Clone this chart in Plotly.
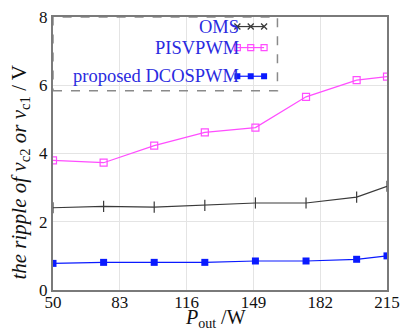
import plotly.graph_objects as go

# Output power (W) and ripple voltage (V) for each modulation scheme
p_out = [50, 75, 100, 125, 150, 175, 200, 215]
oms = [2.41, 2.45, 2.43, 2.48, 2.55, 2.55, 2.72, 3.04]
pisvpwm = [3.80, 3.73, 4.23, 4.62, 4.76, 5.66, 6.15, 6.25]
dcospwm = [0.78, 0.81, 0.81, 0.81, 0.85, 0.85, 0.90, 1.00]

x_ticks = [50, 83, 116, 149, 182, 215]
y_ticks = [0, 2, 4, 6, 8]

series_names = ["OMS", "PISVPWM", "proposed DCOSPWM"]

FONT = "Liberation Serif"
GRAY = "#3a3a3a"
PINK = "#ff4dff"
BLUE = "#0a1aff"
TEXT_BLUE = "#2a2ae0"

fig = go.Figure()

fig.add_trace(go.Scatter(
    x=p_out, y=oms, mode="lines+markers",
    line=dict(color=GRAY, width=1.2),
    marker=dict(symbol="line-ns", size=8, line=dict(color=GRAY, width=1.2)),
    showlegend=False))
fig.add_trace(go.Scatter(
    x=p_out, y=pisvpwm, mode="lines+markers",
    line=dict(color=PINK, width=1.2),
    marker=dict(symbol="square-open", size=7, color=PINK, line=dict(color=PINK, width=1.2)),
    showlegend=False))
fig.add_trace(go.Scatter(
    x=p_out, y=dcospwm, mode="lines+markers",
    line=dict(color=BLUE, width=1.2),
    marker=dict(symbol="square", size=7, color=BLUE),
    showlegend=False))

# Legend samples on an overlay axis spanning the plot area in [0, 1]
sample_x = [0.552, 0.592, 0.632]
legend_rows = [0.965, 0.888, 0.783]
sample_styles = [
    dict(line=dict(color=GRAY, width=1.2),
         marker=dict(symbol="x-thin", size=6, line=dict(color=GRAY, width=1.3))),
    dict(line=dict(color=PINK, width=1.2),
         marker=dict(symbol="square-open", size=6, color=PINK, line=dict(color=PINK, width=1.2))),
    dict(line=dict(color=BLUE, width=1.2),
         marker=dict(symbol="square", size=6, color=BLUE)),
]
for row, style in zip(legend_rows, sample_styles):
    fig.add_trace(go.Scatter(
        x=sample_x, y=[row] * len(sample_x), mode="lines+markers",
        xaxis="x2", yaxis="y2", showlegend=False, hoverinfo="skip", **style))

annotations = []
for name, row in zip(series_names, legend_rows):
    annotations.append(dict(
        xref="x2", yref="y2", x=0.562, y=row, text=name, showarrow=False,
        xanchor="right", yanchor="middle",
        font=dict(family=FONT, size=18.5, color=TEXT_BLUE)))

annotations.append(dict(
    xref="paper", yref="paper", x=-0.098, y=0.431, textangle=-90,
    text="<i>the ripple of v</i><sub>c2</sub><i> or v</i><sub>c1</sub> / V",
    showarrow=False, xanchor="center", yanchor="middle",
    font=dict(family=FONT, size=21, color="#111")))
annotations.append(dict(
    xref="paper", yref="paper", x=0.487, y=-0.051,
    text="<i>P</i><sub>out</sub> /W",
    showarrow=False, xanchor="center", yanchor="top",
    font=dict(family=FONT, size=20, color="#111")))

fig.update_layout(
    width=408, height=331,
    margin=dict(l=53, r=8, t=16, b=41),
    paper_bgcolor="white", plot_bgcolor="white",
    font=dict(family=FONT, size=17, color="#111"),
    xaxis=dict(range=[50, 215], tickvals=x_ticks, ticks="", showgrid=True,
               gridcolor="#e4e4e4", gridwidth=1, zeroline=False,
               showline=True, linecolor="#7a7a7a", linewidth=2, mirror=True,
               ticklabeloverflow="allow", ticklabelstandoff=-4,
               tickfont=dict(family=FONT, size=17, color="#111")),
    yaxis=dict(range=[0, 8], tickvals=y_ticks, ticks="", showgrid=True,
               gridcolor="#e4e4e4", gridwidth=1, zeroline=False,
               showline=True, linecolor="#7a7a7a", linewidth=2, mirror=True,
               ticklabeloverflow="allow",
               tickfont=dict(family=FONT, size=17, color="#111")),
    xaxis2=dict(overlaying="x", range=[0, 1], visible=False, fixedrange=True),
    yaxis2=dict(overlaying="y", range=[0, 1], visible=False, fixedrange=True),
    annotations=annotations,
    shapes=[dict(type="rect", xref="x2", yref="y2", x0=0.0, x1=0.672,
                 y0=0.73, y1=1.0, line=dict(color="#8a8a8a", width=1.5, dash="dash"),
                 fillcolor="rgba(255,255,255,0)", layer="above")],
    showlegend=False,
)

fig.write_html("out.html")
